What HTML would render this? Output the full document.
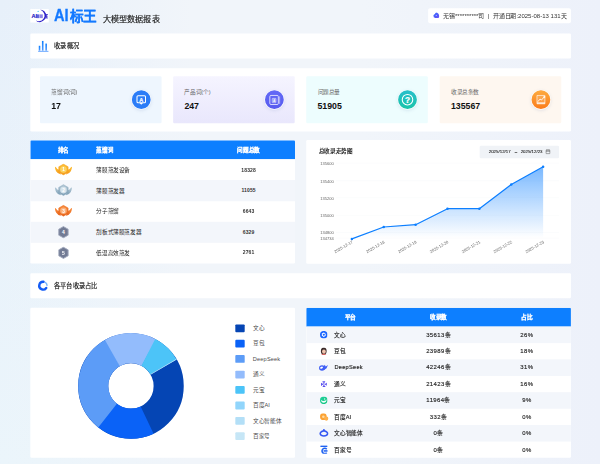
<!DOCTYPE html>
<html lang="zh-CN">
<head>
<meta charset="utf-8">
<title>AI标王 大模型数据报表</title>
<style>
*{box-sizing:border-box;margin:0;padding:0}
html,body{width:600px;height:464px;overflow:hidden;background:#ecf1fa;font-family:"Liberation Sans",sans-serif;}
#bg{position:absolute;left:0;top:0;width:600px;height:464px;
 background:linear-gradient(90deg,rgba(241,245,250,0) 0%,rgba(241,245,250,0.12) 5%,rgba(241,245,250,1) 32%,rgba(241,245,250,1) 60%,rgba(237,241,250,1) 100%),linear-gradient(180deg,#e7f0fa 0%,#ebf5fb 100%)}
#stage{position:absolute;left:0;top:0;width:1920px;height:1485px;transform:scale(0.3125);transform-origin:0 0;will-change:opacity;color:#222;overflow:hidden}
.abs{position:absolute}
.card{position:absolute;background:#fff;border-radius:4px}
#logo{left:97px;top:29px;width:59px;height:43px;background:#fff}
#title{left:173px;top:18px;height:60px;line-height:60px;font-weight:bold;color:#1479ff;font-size:43.500px;white-space:nowrap;-webkit-text-stroke:1px #1479ff}
#title .ai{font-size:52px;display:inline-block;transform:scaleX(0.9);transform-origin:0 50%;margin-right:-1px}
#subtitle{left:329px;top:41px;font-size:26px;line-height:40px;color:#222;white-space:nowrap;-webkit-text-stroke:0.6px #222}
#pill{left:1370px;top:26px;width:457px;height:48px;border-radius:6px;font-size:19px;line-height:48px;color:#333;white-space:nowrap}
.sec{left:97px;width:1730px;height:80px}
.sec .t{position:absolute;left:76px;top:0;line-height:80px;font-size:20px;font-weight:normal;-webkit-text-stroke:0.5px #222;color:#222;white-space:nowrap}
#stats{left:97px;top:218px;width:1730px;height:203px}
.stat{position:absolute;top:26px;width:389px;height:150px;border-radius:4px}
.stat .l{position:absolute;left:36px;top:38px;font-size:18px;line-height:24px;color:#666;white-space:nowrap}
.stat .v{position:absolute;left:36px;top:78px;font-size:28px;line-height:36px;font-weight:bold;color:#111}
.stat .ic{position:absolute;right:33px;top:43px;width:64px;height:64px;border-radius:50%;border:2px solid rgba(255,255,255,0.95);box-shadow:0 3px 10px rgba(90,120,170,0.16)}
.stat .ic svg{position:absolute;left:0;top:0;width:60px;height:60px}
#tbl1{overflow:hidden}
#tbl1 .h{position:absolute;left:0;top:0;width:847px;height:60px;background:#0d7fff}
#tbl1 .h span,#tbl1 .r span{position:absolute;top:0;white-space:nowrap}
#tbl1 .h span{line-height:60px;color:#fff;font-size:18px;font-weight:bold;-webkit-text-stroke:0.5px #fff}
#tbl1 .r{position:absolute;left:0;width:847px;height:68px;font-size:18px;color:#222;line-height:68px}
#tbl1 .r.alt{background:#f3f6fb}
#tbl1 .c1{left:0;width:212px;text-align:center}
#tbl1 .c2{left:211px}
#tbl1 .c3{left:550px;width:297px;text-align:center}
#tbl1 .r .c3{font-weight:bold;font-size:16px;letter-spacing:0.4px;color:#333}
#tbl1 .r svg{position:absolute}
#tbl2{overflow:hidden}
#tbl2 .h{position:absolute;left:0;top:0;width:847px;height:60px;background:#0d7fff}
#tbl2 .h span,#tbl2 .r span{position:absolute;top:0;white-space:nowrap}
#tbl2 .h span{line-height:60px;color:#fff;font-size:18px;font-weight:bold;text-align:center;-webkit-text-stroke:0.5px #fff}
#tbl2 .r{position:absolute;left:0;width:847px;height:52.5px;font-size:18px;color:#222;line-height:52px}
#tbl2 .r.alt{background:#f3f6fb}
#tbl2 .d1{left:0;width:282px;text-align:center}
#tbl2 .d2{left:282px;width:283px;text-align:center}
#tbl2 .d3{left:565px;width:282px;text-align:center}
#tbl2 .r .n{left:90px;font-weight:normal;font-size:18px;-webkit-text-stroke:0.45px #222}
#tbl2 .r .d2,#tbl2 .r .d3{font-weight:normal;font-size:19px;letter-spacing:1.3px;-webkit-text-stroke:0.45px #222}
#tbl2 .r svg{position:absolute;left:44px;top:14px;width:24px;height:24px}
#chart .ttl{position:absolute;left:40px;top:22px;font-size:18px;font-weight:bold;color:#222;line-height:26px;white-space:nowrap}
#chart .dp{position:absolute;left:555px;top:18px;width:254px;height:40px;background:#f0f3f7;border-radius:4px;font-size:14px;line-height:40px;color:#222;white-space:nowrap;-webkit-text-stroke:0.3px #222}
#chart svg{position:absolute;left:0;top:0}
#donut svg{position:absolute;left:0;top:0}
#donut .lg{position:absolute;left:656px;width:30px;height:25px;border-radius:3px}
#donut .lt{position:absolute;left:712px;font-size:18px;line-height:25px;color:#4a4a4a;white-space:nowrap;letter-spacing:0.5px}
</style>
</head>
<body>
<div id="bg"></div>
<div id="stage">
  <div id="logo" class="abs"><svg width="59" height="44" viewBox="0 0 59 44">
<path d="M32 2 Q39 1 45 7 Q52 14 50.500 24 Q48 38 31 42 Q22 43 17.500 36 Q23 40 31 38.500 Q43 35 45.500 23 Q47 10 32 2Z" fill="#2f22c9"/>
<circle cx="25" cy="7.500" r="2" fill="#2fc4f2"/>
<text x="4" y="29" font-size="18" font-weight="bold" fill="#2a20c4" stroke="#2a20c4" stroke-width="0.500" font-family="Liberation Sans, sans-serif">AI</text>
<rect x="20" y="17" width="9.500" height="12" fill="#3433d2" fill-opacity="0.75"/>
<rect x="31" y="17" width="9" height="12" fill="#4336d4" fill-opacity="0.6"/>
<path d="M47.500 17.500 L56.500 17.500 M48.500 23 L55.500 23 M47.500 28.500 L56.500 28.500 M52 17.500 L52 28.500" stroke="#2f22c9" stroke-width="2.400"/>
</svg></div>
  <div id="title" class="abs"><span class="ai">AI</span>标王</div>
  <div id="subtitle" class="abs">大模型数据报表</div>
  <div id="pill" class="card"><svg style="position:absolute;left:15px;top:13px" width="22" height="20" viewBox="0 0 22 20"><defs><linearGradient id="pg" x1="0" y1="0" x2="1" y2="1"><stop offset="0" stop-color="#2f6bff"/><stop offset="1" stop-color="#6a4df5"/></linearGradient></defs><path d="M2 10 Q1 18 8 18.500 L17 18.500 Q21 18 20.500 12 Q20 5 14 2 Q10 0 8 3.500 Q7 6 4.500 7 Q2 8 2 10Z" fill="url(#pg)"/><circle cx="11" cy="10.500" r="2" fill="#a9b8ff"/></svg><span style="position:absolute;left:48px;font-size:19.300px">无锡**********司&nbsp; | &nbsp;开通日期:2025-08-13 131天</span></div>

  <div class="card sec" style="top:107px"><svg style="position:absolute;left:0;top:0" width="80" height="80" viewBox="0 0 80 80"><defs><linearGradient id="bg1" x1="0" y1="0" x2="0" y2="1"><stop offset="0" stop-color="#0d7fff"/><stop offset="1" stop-color="#4f9bff"/></linearGradient></defs><rect x="27" y="39.500" width="5" height="15.500" fill="url(#bg1)"/><rect x="37.200" y="24" width="5" height="31" fill="url(#bg1)"/><rect x="48.200" y="32.500" width="5" height="22.500" fill="url(#bg1)"/><rect x="25" y="55.800" width="33" height="2.400" fill="#3b8cff"/></svg><div class="t">收录概况</div></div>

  <div id="stats" class="card">
<div class="stat" style="left:31px;background:#eef6fe"><div class="l">蒸馏词(词)</div><div class="v">17</div><div class="ic" style="background:#2b7cf7"><svg viewBox="0 0 64 64" width="64" height="64"><rect x="17.500" y="18.500" width="29" height="24" rx="3.500" fill="none" stroke="#fff" stroke-width="3.600"/><path d="M26 43 L32 49.500 L38 43Z" fill="#fff"/><text x="32" y="38.500" font-size="19" font-weight="bold" stroke="#fff" stroke-width="0.600" fill="#fff" text-anchor="middle" font-family="Liberation Sans, sans-serif">A</text></svg></div></div>
<div class="stat" style="left:457px;background:linear-gradient(180deg,#f5f4ff,#e9e7fc)"><div class="l">产品词(个)</div><div class="v">247</div><div class="ic" style="background:linear-gradient(180deg,#636af6,#575bf0)"><svg viewBox="0 0 64 64" width="64" height="64"><rect x="16.500" y="17.500" width="29" height="31" rx="4" fill="none" stroke="#fff" stroke-opacity="0.92" stroke-width="2.800"/><path d="M50 22 L50 45" fill="none" stroke="#fff" stroke-opacity="0.7" stroke-width="2.400" stroke-linecap="round"/><rect x="24.500" y="27.500" width="13" height="15" rx="1.500" fill="#fff" fill-opacity="0.25" stroke="#fff" stroke-opacity="0.9" stroke-width="1.800"/><text x="31" y="40" font-size="11" font-weight="bold" fill="#fff" text-anchor="middle" font-family="Liberation Sans, sans-serif">A</text></svg></div></div>
<div class="stat" style="left:883px;background:#edfdfe"><div class="l">问题总量</div><div class="v">51905</div><div class="ic" style="background:linear-gradient(180deg,#28bfcb,#1bc4a9)"><svg viewBox="0 0 64 64" width="64" height="64"><circle cx="32" cy="32" r="18" fill="none" stroke="#fff" stroke-width="3.600"/><text x="32" y="42" font-size="28" font-weight="bold" stroke="#fff" stroke-width="0.800" fill="#fff" text-anchor="middle" font-family="Liberation Sans, sans-serif">?</text></svg></div></div>
<div class="stat" style="left:1310px;background:#fef7f0"><div class="l">收录总条数</div><div class="v">135567</div><div class="ic" style="background:linear-gradient(180deg,#fdab3f,#fb7b1a)"><svg viewBox="0 0 64 64" width="64" height="64"><path d="M18.500 17.500 H45.500 V46 H18.500 Z" fill="#fff" fill-opacity="0.14" stroke="#fff" stroke-opacity="0.9" stroke-width="2.400"/><rect x="18.500" y="41" width="27" height="5" fill="#fff" fill-opacity="0.8"/><path d="M22 38 L29 30 L34 33 L43 23" fill="none" stroke="#fff" stroke-width="3" stroke-linejoin="round" stroke-linecap="round"/><circle cx="43.500" cy="22.500" r="3.200" fill="#fff"/></svg></div></div>
  </div>

  <div class="card" id="tbl1" style="left:97px;top:449px;width:847px;height:394px">
<div class="h"><span class="c1">排名</span><span class="c2">蒸馏词</span><span class="c3">问题总数</span></div>
<div class="r" style="top:61.0px"><svg style="left:78px;top:13px" width="56" height="39" viewBox="0 0 56 39">
<defs><linearGradient id="g1" x1="0" y1="0" x2="0" y2="1"><stop offset="0" stop-color="#fdc033"/><stop offset="1" stop-color="#f59a1c"/></linearGradient></defs>
<path d="M0.500 12 Q2 9.500 4 12 Q8 19.500 14 20 L20 35.500 Q9 33 4.500 25 Q1.500 19 0.500 12 Z M55.500 12 Q54 9.500 52 12 Q48 19.500 42 20 L36 35.500 Q47 33 51.500 25 Q54.500 19 55.500 12 Z" fill="url(#g1)"/>
<path d="M28 2 L43 10.700 L43 28 L28 36.700 L13 28 L13 10.700 Z" fill="url(#g1)" stroke="#f59a1c" stroke-width="1.500" stroke-linejoin="round"/>
<circle cx="28" cy="19.300" r="10.500" fill="#fbd260"/>
<text x="28" y="25" font-size="15" font-weight="bold" fill="#fff" text-anchor="middle" font-family="Liberation Sans, sans-serif">1</text>
</svg><span class="c2">薄膜蒸发设备</span><span class="c3">18328</span></div>
<div class="r alt" style="top:127.2px"><svg style="left:78px;top:13px" width="56" height="39" viewBox="0 0 56 39">
<defs><linearGradient id="g2" x1="0" y1="0" x2="0" y2="1"><stop offset="0" stop-color="#b7cbd8"/><stop offset="1" stop-color="#7d9fb6"/></linearGradient></defs>
<path d="M0.500 12 Q2 9.500 4 12 Q8 19.500 14 20 L20 35.500 Q9 33 4.500 25 Q1.500 19 0.500 12 Z M55.500 12 Q54 9.500 52 12 Q48 19.500 42 20 L36 35.500 Q47 33 51.500 25 Q54.500 19 55.500 12 Z" fill="url(#g2)"/>
<path d="M28 2 L43 10.700 L43 28 L28 36.700 L13 28 L13 10.700 Z" fill="url(#g2)" stroke="#7d9fb6" stroke-width="1.500" stroke-linejoin="round"/>
<circle cx="28" cy="19.300" r="10.500" fill="#d5e3ec"/>
<text x="28" y="25" font-size="15" font-weight="bold" fill="#fff" text-anchor="middle" font-family="Liberation Sans, sans-serif">2</text>
</svg><span class="c2">薄膜蒸发器</span><span class="c3">11055</span></div>
<div class="r" style="top:193.4px"><svg style="left:78px;top:13px" width="56" height="39" viewBox="0 0 56 39">
<defs><linearGradient id="g3" x1="0" y1="0" x2="0" y2="1"><stop offset="0" stop-color="#f98d3c"/><stop offset="1" stop-color="#e8641c"/></linearGradient></defs>
<path d="M0.500 12 Q2 9.500 4 12 Q8 19.500 14 20 L20 35.500 Q9 33 4.500 25 Q1.500 19 0.500 12 Z M55.500 12 Q54 9.500 52 12 Q48 19.500 42 20 L36 35.500 Q47 33 51.500 25 Q54.500 19 55.500 12 Z" fill="url(#g3)"/>
<path d="M28 2 L43 10.700 L43 28 L28 36.700 L13 28 L13 10.700 Z" fill="url(#g3)" stroke="#e8641c" stroke-width="1.500" stroke-linejoin="round"/>
<circle cx="28" cy="19.300" r="10.500" fill="#fbb07a"/>
<text x="28" y="25" font-size="15" font-weight="bold" fill="#fff" text-anchor="middle" font-family="Liberation Sans, sans-serif">3</text>
</svg><span class="c2">分子蒸馏</span><span class="c3">6643</span></div>
<div class="r alt" style="top:259.6px"><svg style="left:88px;top:14px" width="36" height="40" viewBox="0 0 36 40">
<path d="M18 2 L33 10.500 L33 29.500 L18 38 L3 29.500 L3 10.500 Z" fill="#727b94" stroke="#a2aabe" stroke-width="3" stroke-linejoin="round"/>
<text x="18" y="26" font-size="16" font-weight="bold" fill="#fff" text-anchor="middle" font-family="Liberation Sans, sans-serif">4</text>
</svg><span class="c2">刮板式薄膜蒸发器</span><span class="c3">6329</span></div>
<div class="r" style="top:325.8px"><svg style="left:88px;top:14px" width="36" height="40" viewBox="0 0 36 40">
<path d="M18 2 L33 10.500 L33 29.500 L18 38 L3 29.500 L3 10.500 Z" fill="#727b94" stroke="#a2aabe" stroke-width="3" stroke-linejoin="round"/>
<text x="18" y="26" font-size="16" font-weight="bold" fill="#fff" text-anchor="middle" font-family="Liberation Sans, sans-serif">5</text>
</svg><span class="c2">低温高效蒸发</span><span class="c3">2761</span></div>
  </div>
  <div class="card" id="chart" style="left:980px;top:448px;width:847px;height:396px">
<div class="ttl">总收录走势图</div><div class="dp"><span style="position:absolute;left:29px">2025/12/17</span><span style="position:absolute;left:112px">–</span><span style="position:absolute;left:131px">2025/12/23</span><svg style="left:210px;top:11px" width="17" height="17" viewBox="0 0 16 16"><rect x="2" y="3" width="12" height="11" rx="1.500" fill="none" stroke="#333" stroke-width="1.400"/><line x1="2" x2="14" y1="6.500" y2="6.500" stroke="#333" stroke-width="1.400"/><line x1="5" x2="5" y1="1" y2="4" stroke="#333" stroke-width="1.400"/><line x1="11" x2="11" y1="1" y2="4" stroke="#333" stroke-width="1.400"/></svg></div><svg width="847" height="396" viewBox="0 0 847 396" font-family="Liberation Sans, sans-serif">
<defs><linearGradient id="ar" gradientUnits="userSpaceOnUse" x1="0" y1="85" x2="0" y2="314"><stop offset="0" stop-color="#0d7fff" stop-opacity="0.55"/><stop offset="1" stop-color="#0d7fff" stop-opacity="0"/></linearGradient></defs>
<line x1="95" x2="809" y1="74" y2="74" stroke="#f3f4f7" stroke-width="1"/><text x="88" y="80" font-size="13" fill="#666" text-anchor="end">135600</text><line x1="95" x2="809" y1="130" y2="130" stroke="#f3f4f7" stroke-width="1"/><text x="88" y="136" font-size="13" fill="#666" text-anchor="end">135400</text><line x1="95" x2="809" y1="185" y2="185" stroke="#f3f4f7" stroke-width="1"/><text x="88" y="191" font-size="13" fill="#666" text-anchor="end">135200</text><line x1="95" x2="809" y1="241" y2="241" stroke="#f3f4f7" stroke-width="1"/><text x="88" y="247" font-size="13" fill="#666" text-anchor="end">135000</text><line x1="95" x2="809" y1="296" y2="296" stroke="#f3f4f7" stroke-width="1"/><text x="88" y="302" font-size="13" fill="#666" text-anchor="end">134800</text><line x1="95" x2="809" y1="314" y2="314" stroke="#f3f4f7" stroke-width="1"/><text x="88" y="320" font-size="13" fill="#666" text-anchor="end">134734</text>
<path d="M146.0,314 L146.0,316.5 L248.0,278.4 L350.0,271.0 L452.0,219.8 L554.0,219.8 L656.0,142.4 L758.0,85.4 L758.0,314 Z" fill="url(#ar)"/>
<polyline points="146.0,316.5 248.0,278.4 350.0,271.0 452.0,219.8 554.0,219.8 656.0,142.4 758.0,85.4" fill="none" stroke="#0d7fff" stroke-width="4" stroke-linejoin="round" stroke-linecap="round"/>
<circle cx="146.0" cy="316.5" r="4" fill="#0d7fff"/><circle cx="248.0" cy="278.4" r="4" fill="#0d7fff"/><circle cx="350.0" cy="271.0" r="4" fill="#0d7fff"/><circle cx="452.0" cy="219.8" r="4" fill="#0d7fff"/><circle cx="554.0" cy="219.8" r="4" fill="#0d7fff"/><circle cx="656.0" cy="142.4" r="4" fill="#0d7fff"/><circle cx="758.0" cy="85.4" r="4" fill="#0d7fff"/>
<text transform="translate(150.0,329) rotate(-30)" font-size="13" fill="#666" text-anchor="end">2025-12-17</text><text transform="translate(252.0,329) rotate(-30)" font-size="13" fill="#666" text-anchor="end">2025-12-18</text><text transform="translate(354.0,329) rotate(-30)" font-size="13" fill="#666" text-anchor="end">2025-12-19</text><text transform="translate(456.0,329) rotate(-30)" font-size="13" fill="#666" text-anchor="end">2025-12-20</text><text transform="translate(558.0,329) rotate(-30)" font-size="13" fill="#666" text-anchor="end">2025-12-21</text><text transform="translate(660.0,329) rotate(-30)" font-size="13" fill="#666" text-anchor="end">2025-12-22</text><text transform="translate(762.0,329) rotate(-30)" font-size="13" fill="#666" text-anchor="end">2025-12-23</text>
</svg>
  </div>

  <div class="card sec" style="top:874px"><svg style="position:absolute;left:0;top:0" width="80" height="80" viewBox="0 0 80 80"><g transform="translate(41,40)"><path d="M7.500 -10 A12.500 12.500 0 0 1 12.400 -1" fill="none" stroke="#7db8fc" stroke-width="5" stroke-linecap="round"/><path d="M1.500 -12.400 A12.500 12.500 0 1 0 10 7.500" fill="none" stroke="#145cf5" stroke-width="7.600" stroke-linecap="round"/></g></svg><div class="t" style="left:75px">各平台收录占比</div></div>

  <div class="card" id="donut" style="left:97px;top:985px;width:847px;height:480px">
<svg width="847" height="480" viewBox="0 0 847 480"><circle cx="322" cy="250" r="120.75" fill="none" stroke="#0545b4" stroke-width="96.5"/><path d="M394.5,402.7 A169,169 0 0 1 215.0,380.8 L276.1,306.1 A72.5,72.5 0 0 0 353.1,315.5 Z" fill="#0a62f7"/><path d="M217.3,382.6 A169,169 0 0 1 241.4,101.5 L287.4,186.3 A72.5,72.5 0 0 0 277.1,306.9 Z" fill="#5c9cf7"/><path d="M238.8,102.9 A169,169 0 0 1 402.4,101.3 L356.5,186.2 A72.5,72.5 0 0 0 286.3,186.9 Z" fill="#93bcfc"/><path d="M399.8,100.0 A169,169 0 0 1 468.1,165.0 L384.7,213.5 A72.5,72.5 0 0 0 355.4,185.6 Z" fill="#4cc4f8"/><path d="M467.2,163.5 A169,169 0 0 1 468.4,165.5 L384.8,213.8 A72.5,72.5 0 0 0 384.3,212.9 Z" fill="#d4ecfc"/></svg><div class="lg" style="top:52.5px;background:#0545b4"></div><div class="lt" style="top:52.5px">文心</div><div class="lg" style="top:101.9px;background:#0a62f7"></div><div class="lt" style="top:101.9px">豆包</div><div class="lg" style="top:151.3px;background:#5c9cf7"></div><div class="lt" style="top:151.3px">DeepSeek</div><div class="lg" style="top:200.7px;background:#93bcfc"></div><div class="lt" style="top:200.7px">通义</div><div class="lg" style="top:250.1px;background:#4cc4f8"></div><div class="lt" style="top:250.1px">元宝</div><div class="lg" style="top:299.5px;background:#91d5fb"></div><div class="lt" style="top:299.5px">百度AI</div><div class="lg" style="top:348.9px;background:#b3dff7"></div><div class="lt" style="top:348.9px">文心智能体</div><div class="lg" style="top:398.3px;background:#c6e6f6"></div><div class="lt" style="top:398.3px">百家号</div>
  </div>
  <div class="card" id="tbl2" style="left:980px;top:985px;width:847px;height:480px">
<div class="h"><span class="d1">平台</span><span class="d2">收录数</span><span class="d3">占比</span></div>
<div class="r alt" style="top:60.0px"><svg viewBox="0 0 22 22"><circle cx="11" cy="11" r="11" fill="#1a66ff"/><path d="M11 4.500 L16.600 7.750 V14.250 L11 17.500 L5.400 14.250 V7.750 Z" fill="#fff"/><circle cx="11" cy="11" r="3" fill="#1a66ff"/><path d="M11 11 L17 7" stroke="#1a66ff" stroke-width="1.800"/></svg><span class="n">文心</span><span class="d2">35613条</span><span class="d3">26%</span></div>
<div class="r" style="top:112.5px"><svg viewBox="0 0 22 22"><ellipse cx="11" cy="10.500" rx="8.500" ry="10.500" fill="#3b2b2a"/><ellipse cx="11.500" cy="12" rx="5.500" ry="6.500" fill="#f0c4ae"/><path d="M4 21 Q11 15.500 18 21 L18 22 L4 22Z" fill="#d9605f"/></svg><span class="n">豆包</span><span class="d2">23989条</span><span class="d3">18%</span></div>
<div class="r alt" style="top:165.0px"><svg viewBox="0 0 30 22" style="left:40px;top:15px;width:30px;height:22px"><ellipse cx="10.500" cy="12.500" rx="9.500" ry="8.500" fill="#3f5ff5"/><ellipse cx="9" cy="11.500" rx="4.600" ry="3" fill="#fff" transform="rotate(-20 9 11.500)"/><path d="M15 9 L19 2.500 L22.500 7.500 L29.500 3 L25 13 L17 19 Z" fill="#3f5ff5"/></svg><span class="n" style="letter-spacing:0.9px">DeepSeek</span><span class="d2">42246条</span><span class="d3">31%</span></div>
<div class="r" style="top:217.5px"><svg viewBox="0 0 22 22" style="left:46px;top:16px;width:21px;height:21px"><g fill="none" stroke="#5a50ee" stroke-width="3.400" stroke-linecap="round"><path d="M7.500 3 L13 3 L10 8"/><path d="M19 7.500 L19 13 L14 10"/><path d="M14.500 19 L9 19 L12 14"/><path d="M3 14.500 L3 9 L8 12"/></g></svg><span class="n">通义</span><span class="d2">21423条</span><span class="d3">16%</span></div>
<div class="r alt" style="top:270.0px"><svg viewBox="0 0 22 22"><defs><linearGradient id="yb" x1="0" y1="0" x2="1" y2="1"><stop offset="0" stop-color="#22d3a0"/><stop offset="1" stop-color="#12c27c"/></linearGradient></defs><circle cx="11" cy="11" r="11" fill="url(#yb)"/><path d="M2.500 9.500 Q4 18.500 12 18 Q19 17 19.500 8 Q17 13 11 13 Q5.500 13 2.500 9.500Z" fill="#f2fff9"/><circle cx="13.500" cy="7" r="2.200" fill="#d5f9ea"/></svg><span class="n">元宝</span><span class="d2">11964条</span><span class="d3">9%</span></div>
<div class="r" style="top:322.5px"><svg viewBox="0 0 24 22" style="width:27px;height:25px"><circle cx="9.500" cy="10" r="9.500" fill="#fca233"/><circle cx="18" cy="15.500" r="6" fill="#fdb04c"/><circle cx="9.500" cy="10" r="3.600" fill="#fdd9a0"/></svg><span class="n">百度AI</span><span class="d2">332条</span><span class="d3">0%</span></div>
<div class="r alt" style="top:375.0px"><svg viewBox="0 0 28 24" style="left:41px;top:12px;width:31px;height:27px"><path d="M14 5.500 Q25 8 25 14.500 Q23 21 14 21 Q5 21 3 14.500 Q3 8 14 5.500Z" fill="none" stroke="#3558f2" stroke-width="4.200" stroke-linejoin="round"/><circle cx="14" cy="3.200" r="2.800" fill="#3558f2"/></svg><span class="n">文心智能体</span><span class="d2">0条</span><span class="d3">0%</span></div>
<div class="r" style="top:427.5px"><svg viewBox="0 0 22 24" style="top:12px;height:27px;width:25px"><rect x="1" y="0.500" width="20" height="4.600" rx="1" fill="#1f62f2"/><path d="M19 11 A7.600 7.600 0 1 0 19 21" fill="none" stroke="#1f62f2" stroke-width="4.600"/><rect x="10" y="13.800" width="11.500" height="4.400" fill="#1f62f2"/></svg><span class="n">百家号</span><span class="d2">0条</span><span class="d3">0%</span></div>
  </div>
</div>
</body>
</html>
